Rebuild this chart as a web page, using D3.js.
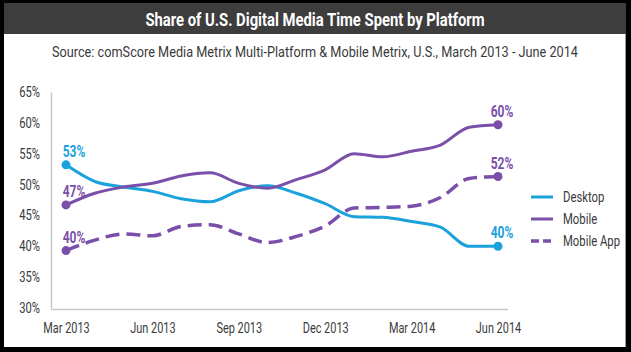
<!DOCTYPE html>
<html>
<head>
<meta charset="utf-8">
<script src="https://cdn.jsdelivr.net/npm/d3@7"></script>
<style>
  html, body { margin: 0; padding: 0; background: #000; }
  text { font-family: Roboto, "Liberation Sans", sans-serif; }
</style>
</head>
<body>
<div id="chart"></div>
<script>
// months Mar 2013 .. Jun 2014
const months = ["2013-03","2013-04","2013-05","2013-06","2013-07","2013-08","2013-09","2013-10",
                "2013-11","2013-12","2014-01","2014-02","2014-03","2014-04","2014-05","2014-06"];
const xTicks = ["2013-03","2013-06","2013-09","2013-12","2014-03","2014-06"];
const xTickLabels = ["Mar 2013","Jun 2013","Sep 2013","Dec 2013","Mar 2014","Jun 2014"];
const yTicks = [30, 35, 40, 45, 50, 55, 60, 65];

const desktop   = [53.2, 50.5, 49.6, 48.9, 47.7, 47.2, 49.0, 49.8, 48.6, 46.9, 44.8, 44.7, 44.0, 43.1, 40.0, 40.0];
const mobile    = [46.7, 48.6, 49.6, 50.2, 51.4, 51.9, 50.2, 49.4, 50.8, 52.4, 55.0, 54.5, 55.4, 56.4, 59.3, 59.7];
const mobileApp = [39.3, 41.0, 42.0, 41.7, 43.2, 43.5, 42.0, 40.6, 41.6, 43.3, 46.2, 46.3, 46.5, 47.9, 51.0, 51.3];

const seriesNames = ["Desktop", "Mobile", "Mobile App"];
const startLabels = ["53%", "47%", "40%"];
const endLabels   = ["40%", "60%", "52%"];

const title = "Share of U.S. Digital Media Time Spent by Platform";
const subtitle = "Source: comScore Media Metrix Multi-Platform & Mobile Metrix, U.S., March 2013 - June 2014";

const W = 631, H = 352;
const blue = "#1ba1db", purple = "#7a4fa9", ink = "#3a3a3a";

const svg = d3.select("#chart").append("svg")
    .attr("width", W).attr("height", H);

// frame
svg.append("rect").attr("width", W).attr("height", H).attr("fill", "#000");
svg.append("rect").attr("x", 4).attr("y", 3).attr("width", 622).attr("height", 31).attr("fill", "#3d3d3d");
svg.append("rect").attr("x", 4).attr("y", 34).attr("width", 622).attr("height", 313).attr("fill", "#fff");
svg.append("line").attr("x1", 625.5).attr("x2", 625.5).attr("y1", 34).attr("y2", 347)
    .attr("stroke", "#999").attr("stroke-width", 1);

// squeeze text horizontally (no condensed face installed): scale x around the anchor point
function condense(sel, f) {
    sel.each(function () {
        const t = d3.select(this);
        const ax = +t.attr("x") || 0;
        t.attr("transform", `translate(${ax},0) scale(${f},1) translate(${-ax},0)`);
    });
}

svg.append("text").attr("x", 315).attr("y", 26).attr("text-anchor", "middle")
    .attr("fill", "#fff").attr("font-size", 19).attr("font-weight", "bold")
    .text(title).call(condense, 0.78);

svg.append("text").attr("x", 315).attr("y", 57).attr("text-anchor", "middle")
    .attr("fill", ink).attr("font-size", 15.5)
    .text(subtitle).call(condense, 0.82);

// scales
const x = d3.scalePoint().domain(months).range([66, 498]);
const y = d3.scaleLinear().domain([30, 65]).range([308, 92]);

// y axis
const yAxis = svg.append("g").attr("transform", "translate(51,0)")
    .call(d3.axisLeft(y).tickValues(yTicks).tickSize(0).tickPadding(11).tickFormat(d => d + "%"));
yAxis.select(".domain").attr("stroke", "#c8c8c8").attr("stroke-width", 1.5);
yAxis.selectAll("text").attr("font-size", 14).attr("fill", ink).attr("font-family", "Roboto").call(condense, 0.8);

// x axis
svg.append("line").attr("x1", 51).attr("x2", 508).attr("y1", 309.5).attr("y2", 309.5)
    .attr("stroke", "#c8c8c8").attr("stroke-width", 1.5);
const xAxis = svg.append("g").attr("transform", "translate(0,308)")
    .call(d3.axisBottom(x).tickValues(xTicks).tickSize(0).tickPadding(15)
        .tickFormat((d, i) => xTickLabels[i]));
xAxis.select(".domain").remove();
xAxis.selectAll("text").attr("font-size", 14).attr("fill", ink).attr("font-family", "Roboto").call(condense, 0.78);

// lines
const series = [
    { name: seriesNames[0], values: desktop,   color: blue,   dash: null,   width: 3 },
    { name: seriesNames[1], values: mobile,    color: purple, dash: null,   width: 3 },
    { name: seriesNames[2], values: mobileApp, color: purple, dash: "14,7", width: 3.5 }
];

const line = d3.line()
    .x((d, i) => x(months[i]))
    .y(d => y(d))
    .curve(d3.curveMonotoneX);

series.forEach((s, k) => {
    svg.append("path").datum(s.values)
        .attr("d", line)
        .attr("fill", "none")
        .attr("stroke", s.color)
        .attr("stroke-width", s.width)
        .attr("stroke-linejoin", "round")
        .attr("stroke-dasharray", s.dash);

    const first = s.values[0], last = s.values[s.values.length - 1];
    svg.append("circle").attr("cx", x(months[0])).attr("cy", y(first)).attr("r", 4.5).attr("fill", s.color);
    svg.append("circle").attr("cx", x(months[months.length - 1])).attr("cy", y(last)).attr("r", 4.5).attr("fill", s.color);

    svg.append("text").attr("x", x(months[0]) + 8).attr("y", y(first) - 8)
        .attr("text-anchor", "middle").attr("fill", s.color)
        .attr("font-size", 16).attr("font-weight", "bold")
        .text(startLabels[k]).call(condense, 0.75);
    svg.append("text").attr("x", x(months[months.length - 1]) + 4).attr("y", y(last) - 8)
        .attr("text-anchor", "middle").attr("fill", s.color)
        .attr("font-size", 16).attr("font-weight", "bold")
        .text(endLabels[k]).call(condense, 0.75);
});

// legend
const legend = svg.append("g").attr("transform", "translate(531,197)");
series.forEach((s, k) => {
    const g = legend.append("g").attr("transform", "translate(0," + (k * 22) + ")");
    g.append("line").attr("x1", 0).attr("x2", 22).attr("y1", 0).attr("y2", 0)
        .attr("stroke", s.color).attr("stroke-width", s.width)
        .attr("stroke-dasharray", s.dash ? "8,4" : null);
    g.append("text").attr("x", 32).attr("y", 5).attr("fill", ink)
        .attr("font-size", 14.5).text(s.name).call(condense, 0.78);
});
</script>
</body>
</html>
